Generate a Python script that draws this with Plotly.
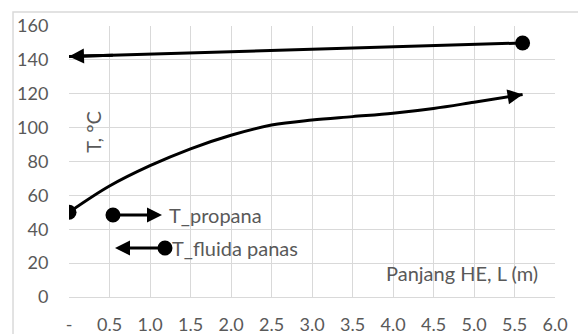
import plotly.graph_objects as go

# ---- data ----
x_propana = [0, 0.5, 1.0, 1.5, 2.0, 2.5, 3.0, 3.5, 4.0, 4.5, 5.0, 5.6]
y_propana = [50, 65.5, 77.5, 87.5, 95.5, 101.5, 104.5, 106.5, 108.5, 111.3, 115, 119.6]
x_fluida = [0, 5.6]
y_fluida = [142, 150]
x_tickvals = [0, 0.5, 1.0, 1.5, 2.0, 2.5, 3.0, 3.5, 4.0, 4.5, 5.0, 5.5, 6.0]
x_ticktext = ["-", "0.5", "1.0", "1.5", "2.0", "2.5", "3.0", "3.5", "4.0", "4.5", "5.0", "5.5", "6.0"]
y_tickvals = [0, 20, 40, 60, 80, 100, 120, 140, 160]
series_names = ["T_propana", "T_fluida panas"]
x_title = "Panjang HE, L (m)"
y_title = "T, °C"

FONT = "Lato"
GRAY = "#595959"
GRID = "#d9d9d9"
TXT = 20

fig = go.Figure()

# T_propana: circle at start, arrow at end
fig.add_trace(go.Scatter(
    x=x_propana, y=y_propana, mode="lines+markers", name=series_names[0],
    line=dict(color="black", width=3, shape="spline", smoothing=1.0),
    marker=dict(color="black", symbol="circle", opacity=1,
                line=dict(width=0),
                size=[15] + [0] * (len(x_propana) - 1)),
    showlegend=False, hoverinfo="skip",
))
# T_fluida panas: circle at end (x=5.6), arrow at start (x=0)
fig.add_trace(go.Scatter(
    x=x_fluida, y=y_fluida, mode="lines+markers", name=series_names[1],
    line=dict(color="black", width=3),
    marker=dict(color="black", symbol="circle", opacity=1,
                line=dict(width=0),
                size=[0] * (len(x_fluida) - 1) + [15]),
    showlegend=False, hoverinfo="skip",
))

def arrow_ann(tip_x, tip_y, prev_x, prev_y, frac=0.3):
    tx = tip_x - frac * (tip_x - prev_x)
    ty = tip_y - frac * (tip_y - prev_y)
    return dict(x=tip_x, y=tip_y, ax=tx, ay=ty, xref="x", yref="y",
                axref="x", ayref="y", text="", showarrow=True,
                arrowhead=2, arrowwidth=3, arrowsize=1, arrowcolor="black")

annotations = [
    arrow_ann(x_propana[-1], y_propana[-1], x_propana[-2], y_propana[-2]),
    arrow_ann(x_fluida[0], y_fluida[0], x_fluida[1], y_fluida[1], frac=0.1),
]

# legend keys (paper coordinates)
annotations += [
    dict(x=0.1914, y=0.3026, xref="paper", yref="paper", ax=-49, ay=0,
         text="", showarrow=True, arrowhead=2, arrowwidth=3, arrowsize=1,
         arrowcolor="black"),
    dict(x=0.0947, y=0.1808, xref="paper", yref="paper", ax=50, ay=0,
         text="", showarrow=True, arrowhead=2, arrowwidth=3, arrowsize=1,
         arrowcolor="black"),
    dict(x=0.2016, y=0.3026, xref="paper", yref="paper", text=series_names[0],
         showarrow=False, xanchor="left", yanchor="middle",
         font=dict(family=FONT, size=TXT, color=GRAY)),
    dict(x=0.2078, y=0.1808, xref="paper", yref="paper", text=series_names[1],
         showarrow=False, xanchor="left", yanchor="middle",
         font=dict(family=FONT, size=TXT, color=GRAY)),
    dict(x=0.809, y=0.0886, xref="paper", yref="paper", text=x_title,
         showarrow=False, xanchor="center", yanchor="middle",
         font=dict(family=FONT, size=TXT, color=GRAY)),
    dict(x=0.049, y=0.609, xref="paper", yref="paper", text=y_title,
         showarrow=False, textangle=-90, xanchor="center", yanchor="middle",
         font=dict(family=FONT, size=TXT, color=GRAY)),
]

shapes = [
    dict(type="rect", xref="paper", yref="paper", x0=-0.1152, y0=-0.3,
         x1=1.2, y1=1.0517, line=dict(color=GRID, width=1.5),
         fillcolor="rgba(0,0,0,0)"),
    dict(type="circle", xref="paper", yref="paper", xsizemode="pixel",
         ysizemode="pixel", xanchor=0.0905, yanchor=0.3026,
         x0=-7.5, x1=7.5, y0=-7.5, y1=7.5, fillcolor="black",
         line=dict(color="black", width=0)),
    dict(type="circle", xref="paper", yref="paper", xsizemode="pixel",
         ysizemode="pixel", xanchor=0.1975, yanchor=0.1808,
         x0=-7.5, x1=7.5, y0=-7.5, y1=7.5, fillcolor="black",
         line=dict(color="black", width=0)),
]

fig.update_layout(
    width=578, height=334,
    margin=dict(l=69, r=23, t=26, b=37, pad=0, autoexpand=False),
    paper_bgcolor="white", plot_bgcolor="white",
    font=dict(family=FONT, size=18, color=GRAY),
    annotations=annotations, shapes=shapes,
    showlegend=False, hovermode=False,
)
fig.update_xaxes(
    range=[0, 6], tickvals=x_tickvals, ticktext=x_ticktext,
    showgrid=True, gridcolor=GRID, gridwidth=1,
    showline=True, linecolor=GRID, linewidth=1, mirror=False,
    zeroline=False, ticks="outside", ticklen=11, tickcolor="rgba(0,0,0,0)",
    automargin=False,
    tickfont=dict(family=FONT, size=18, color=GRAY),
)
fig.update_yaxes(
    range=[0, 160], tickvals=y_tickvals,
    showgrid=True, gridcolor=GRID, gridwidth=1,
    zeroline=False, ticks="outside", ticklen=16, tickcolor="rgba(0,0,0,0)",
    automargin=False,
    tickfont=dict(family=FONT, size=18, color=GRAY),
)

fig.write_html(
    "out.html",
    config={"displayModeBar": False, "staticPlot": True},
    post_script="document.body.style.margin='0';document.body.style.overflow='hidden';",
)
